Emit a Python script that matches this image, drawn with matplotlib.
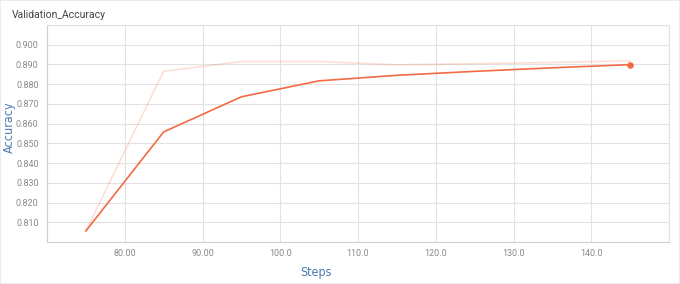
import matplotlib
matplotlib.use('Agg')
import matplotlib.pyplot as plt
from matplotlib.patches import Rectangle

# data
steps = [75, 85, 95, 105, 115, 125, 135, 145]
acc_raw = [0.8056, 0.8865, 0.8915, 0.8915, 0.8898, 0.8904, 0.8910, 0.8919]
acc_smooth = [0.8056, 0.8558, 0.8736, 0.8817, 0.8845, 0.8865, 0.8883, 0.8899]

x_ticks = [80, 90, 100, 110, 120, 130, 140]
x_labels = ['80.00', '90.00', '100.0', '110.0', '120.0', '130.0', '140.0']
y_ticks = [0.81, 0.82, 0.83, 0.84, 0.85, 0.86, 0.87, 0.88, 0.89, 0.90]

line_col = '#f26b43'
grid_col = '#e2e2e2'
tick_col = '#8a8a8a'
label_col = '#4a7cb0'

plt.rcParams['font.family'] = ['Roboto', 'DejaVu Sans']

fig = plt.figure(figsize=(6.8, 2.84), dpi=100)
ax = fig.add_axes([47 / 680, 42 / 284, 622 / 680, 217 / 284])

# raw values (faded) and smoothed line
ax.plot(steps, acc_raw, color=line_col, alpha=0.22, lw=1.1)
ax.plot(steps, acc_smooth, color=line_col, lw=1.2)
ax.scatter(steps[-1:], acc_smooth[-1:], color=line_col, s=14, zorder=3)

ax.set_xlim(70, 150)
ax.set_ylim(0.800, 0.910)
ax.set_xticks([70, 150, *x_ticks])
ax.set_xticklabels(['', '', *x_labels])
ax.set_yticks([0.91, *y_ticks])
ax.set_yticklabels(['', *[f'{v:.3f}' for v in y_ticks]])

ax.grid(True, color=grid_col, lw=0.8)
ax.set_axisbelow(True)
for s in ax.spines.values():
    s.set_color(grid_col)
    s.set_linewidth(0.8)
ax.spines['left'].set_color('#cfcfcf')
ax.spines['bottom'].set_color('#cfcfcf')
ax.tick_params(axis='both', length=0, labelsize=6.5, colors=tick_col)
ax.tick_params(axis='x', pad=5)
ax.tick_params(axis='y', pad=6)

ax.set_xlabel('Steps', color=label_col, fontsize=9, family='DejaVu Sans',
              fontstretch='condensed')
ax.set_ylabel('Accuracy', color=label_col, fontsize=9, family='DejaVu Sans',
              fontstretch='condensed')
ax.xaxis.set_label_coords(269 / 622, -0.11)
ax.yaxis.set_label_coords(-31 / 622, 0.53)

fig.text(12 / 680, 1 - 15 / 284, 'Validation_Accuracy', fontsize=7.5,
         color='#444444', va='center', ha='left')

fig.patches.append(Rectangle((0, 0), 1, 1, transform=fig.transFigure,
                             fill=False, edgecolor='#ececec', lw=1.5))

plt.savefig('out.png', dpi=100)
